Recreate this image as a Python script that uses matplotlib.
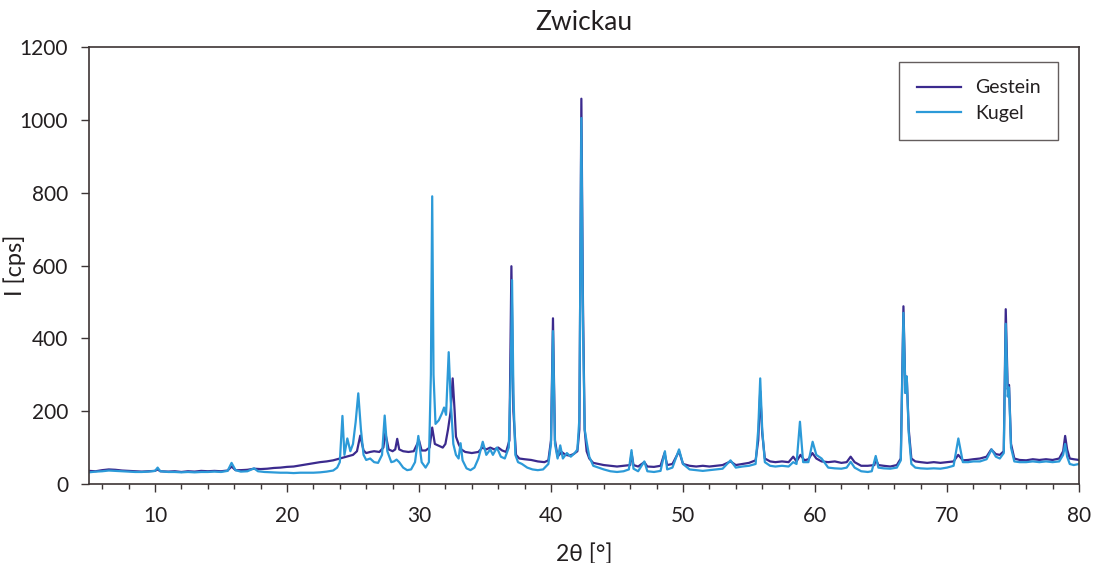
import matplotlib
matplotlib.use("Agg")
from matplotlib import pyplot as plt
from matplotlib.ticker import MultipleLocator

# XRD pattern (2theta in degrees, intensity in cps)
gestein_2theta = [5.0, 5.5, 6.0, 6.5, 7.0, 7.5, 8.0, 8.5, 9.0, 9.5, 10.0, 10.2, 10.4, 11.0, 11.5, 12.0, 12.5,
                  13.0, 13.5, 14.0, 14.5, 15.0, 15.5, 15.8, 16.1, 16.5, 17.0, 17.5, 18.0, 18.5, 19.0, 19.5,
                  20.0, 20.5, 21.0, 21.5, 22.0, 22.5, 23.0, 23.5, 24.0, 24.2, 24.5, 24.8, 25.0, 25.3, 25.55,
                  25.8, 26.0, 26.3, 26.6, 27.0, 27.3, 27.45, 27.7, 28.0, 28.2, 28.35, 28.5, 28.8, 29.2, 29.6,
                  30.0, 30.2, 30.5, 30.8, 31.0, 31.2, 31.5, 31.8, 32.0, 32.2, 32.4, 32.55, 32.7, 32.8, 33.0,
                  33.2, 33.5, 34.0, 34.5, 34.8, 35.1, 35.4, 35.7, 36.0, 36.3, 36.6, 36.85, 37.0, 37.15, 37.35,
                  37.6, 38.0, 38.5, 39.0, 39.5, 39.8, 40.0, 40.15, 40.3, 40.5, 40.8, 41.1, 41.4, 41.7, 42.0,
                  42.15, 42.3, 42.42, 42.55, 42.7, 42.9, 43.2, 43.6, 44.0, 44.5, 45.0, 45.5, 46.0, 46.1, 46.25,
                  46.6, 47.07, 47.3, 47.8, 48.3, 48.6, 48.8, 49.2, 49.7, 50.0, 50.5, 51.0, 51.5, 52.0, 52.5,
                  53.0, 53.6, 54.0, 54.5, 55.0, 55.5, 55.7, 55.85, 56.0, 56.2, 56.6, 57.0, 57.5, 58.0, 58.35,
                  58.6, 58.9, 59.2, 59.5, 59.8, 60.1, 60.5, 61.0, 61.5, 62.0, 62.4, 62.7, 63.0, 63.5, 64.0,
                  64.5, 64.6, 64.8, 65.2, 65.7, 66.2, 66.5, 66.7, 66.85, 66.95, 67.1, 67.3, 67.6, 68.0, 68.5,
                  69.0, 69.5, 70.0, 70.5, 70.85, 71.2, 71.6, 72.0, 72.5, 73.0, 73.35, 73.7, 74.0, 74.3, 74.45,
                  74.6, 74.7, 74.85, 75.1, 75.5, 76.0, 76.5, 77.0, 77.5, 78.0, 78.5, 78.8, 78.95, 79.1, 79.3,
                  79.6, 80.0]
gestein_cps = [36, 35, 38, 40, 39, 37, 36, 35, 34, 35, 36, 40, 35, 34, 35, 33, 35,
               34, 36, 35, 36, 35, 37, 48, 38, 38, 39, 42, 41, 42, 44, 45,
               47, 48, 51, 54, 57, 60, 62, 65, 70, 72, 75, 78, 80, 90, 133,
               92, 85, 88, 90, 88, 100, 140, 95, 90, 95, 124, 95, 90, 88, 90,
               120, 92, 92, 100, 155, 110, 105, 100, 110, 150, 200, 290, 200, 130, 110,
               95, 88, 85, 88, 100, 95, 100, 95, 100, 92, 88, 120, 598, 200, 80,
               70, 68, 66, 62, 60, 65, 120, 455, 120, 75, 88, 80, 78, 82, 90,
               150, 1058, 500, 150, 90, 70, 58, 55, 52, 50, 48, 50, 52, 85, 52,
               48, 60, 48, 47, 50, 85, 52, 55, 90, 55, 50, 48, 50, 48, 50,
               52, 62, 52, 55, 58, 65, 120, 255, 140, 70, 62, 60, 62, 60, 75,
               62, 80, 65, 68, 85, 70, 62, 60, 62, 58, 60, 75, 60, 50, 50,
               52, 70, 52, 50, 48, 52, 70, 488, 250, 295, 150, 70, 62, 60, 58,
               60, 58, 60, 62, 80, 65, 66, 68, 70, 75, 95, 82, 80, 90, 480,
               260, 272, 110, 70, 66, 65, 68, 66, 68, 66, 70, 90, 132, 95, 70,
               68, 66]

kugel_2theta = [5.0, 5.5, 6.0, 6.5, 7.0, 7.5, 8.0, 8.5, 9.0, 9.5, 10.0, 10.2, 10.4, 11.0, 11.5, 12.0, 12.5,
                13.0, 13.5, 14.0, 14.5, 15.0, 15.5, 15.8, 16.1, 16.5, 17.0, 17.5, 17.8, 18.3, 19.0, 19.5,
                20.0, 20.5, 21.0, 21.5, 22.0, 22.5, 23.0, 23.5, 23.8, 24.0, 24.2, 24.35, 24.57, 24.8, 25.0,
                25.2, 25.4, 25.6, 25.8, 26.0, 26.3, 26.6, 26.9, 27.2, 27.4, 27.6, 27.9, 28.1, 28.3, 28.5,
                28.8, 29.1, 29.4, 29.7, 29.95, 30.2, 30.5, 30.75, 30.9, 31.0, 31.1, 31.25, 31.5, 31.75,
                31.9, 32.05, 32.25, 32.4, 32.6, 32.8, 33.0, 33.15, 33.3, 33.6, 33.9, 34.2, 34.5, 34.83,
                35.1, 35.4, 35.6, 35.9, 36.2, 36.5, 36.8, 36.95, 37.05, 37.15, 37.3, 37.5, 37.8, 38.2, 38.6,
                39.0, 39.4, 39.8, 40.0, 40.15, 40.3, 40.5, 40.7, 40.9, 41.2, 41.5, 41.8, 42.0, 42.15, 42.3,
                42.42, 42.55, 42.7, 42.9, 43.2, 43.6, 44.0, 44.5, 45.0, 45.5, 45.9, 46.1, 46.25, 46.6,
                47.07, 47.3, 47.8, 48.3, 48.63, 48.8, 49.2, 49.7, 50.0, 50.5, 51.0, 51.5, 52.0, 52.5, 53.0,
                53.6, 54.0, 54.5, 55.0, 55.5, 55.7, 55.85, 56.0, 56.2, 56.6, 57.0, 57.5, 58.0, 58.35, 58.6,
                58.86, 59.1, 59.5, 59.82, 60.1, 60.5, 61.0, 61.5, 62.0, 62.4, 62.7, 63.0, 63.5, 64.0, 64.3,
                64.6, 64.8, 65.2, 65.7, 66.2, 66.5, 66.7, 66.85, 66.95, 67.1, 67.3, 67.6, 68.0, 68.5, 69.0,
                69.5, 70.0, 70.5, 70.86, 71.2, 71.6, 72.0, 72.5, 73.0, 73.38, 73.7, 74.0, 74.3, 74.45, 74.6,
                74.7, 74.85, 75.1, 75.5, 76.0, 76.5, 77.0, 77.5, 78.0, 78.5, 78.8, 78.95, 79.1, 79.3, 79.6,
                80.0]
kugel_cps = [32, 34, 35, 37, 36, 35, 34, 33, 33, 34, 36, 45, 35, 33, 33, 32, 33,
             32, 33, 33, 34, 33, 36, 58, 38, 34, 35, 43, 35, 33, 32, 31,
             31, 30, 31, 31, 31, 32, 34, 37, 45, 60, 187, 80, 125, 90, 110,
             170, 249, 150, 80, 66, 70, 60, 58, 80, 188, 90, 60, 62, 67, 60,
             45, 38, 40, 60, 132, 60, 45, 60, 300, 790, 300, 165, 175, 195,
             210, 190, 362, 230, 110, 80, 70, 112, 65, 43, 38, 45, 70, 116,
             80, 95, 80, 100, 75, 70, 100, 300, 560, 250, 80, 60, 55, 45, 40,
             38, 40, 55, 110, 420, 110, 70, 106, 70, 85, 75, 85, 95, 180, 1005,
             450, 150, 116, 75, 50, 45, 40, 35, 33, 35, 40, 93, 42, 35,
             62, 35, 33, 36, 90, 40, 45, 95, 55, 40, 38, 36, 38, 40, 42,
             65, 45, 48, 50, 55, 150, 290, 150, 60, 50, 48, 50, 48, 60, 55,
             171, 60, 60, 116, 80, 70, 45, 43, 42, 45, 61, 45, 35, 33, 35,
             77, 45, 43, 42, 45, 65, 470, 250, 295, 140, 55, 45, 43, 42, 43,
             42, 45, 50, 125, 60, 60, 62, 62, 68, 95, 75, 70, 85, 440, 240,
             265, 100, 62, 60, 60, 62, 60, 62, 60, 62, 80, 110, 75, 55, 52,
             55]

series_labels = ['Gestein', 'Kugel']
series_colors = ['#3b2a8e', '#2c9ad8']

plt.rcParams['font.family'] = ['Lato', 'DejaVu Sans']
frame_color = '#3d3535'
text_color = '#231f20'

fig = plt.figure(figsize=(11.01, 5.63), dpi=100)
ax = fig.add_axes([89 / 1101, 1 - 484 / 563, 990 / 1101, 437 / 563])

ax.plot(gestein_2theta, gestein_cps, color=series_colors[0], lw=1.6, label=series_labels[0])
ax.plot(kugel_2theta, kugel_cps, color=series_colors[1], lw=1.6, label=series_labels[1])

ax.set_xlim(5, 80)
ax.set_ylim(0, 1200)
ax.xaxis.set_major_locator(MultipleLocator(10))
ax.xaxis.set_minor_locator(MultipleLocator(2))
ax.yaxis.set_major_locator(MultipleLocator(200))

for side in ax.spines:
    ax.spines[side].set_color(frame_color)
    ax.spines[side].set_linewidth(1.2)
ax.tick_params(which='major', direction='out', length=6, width=1, color=frame_color,
               labelsize=15, labelcolor=text_color, pad=9)
ax.tick_params(which='minor', direction='out', length=3.5, width=1, color=frame_color)
ax.tick_params(axis='x', which='major', pad=10)

ax.set_title('Zwickau', fontsize=19, color=text_color, pad=12)
ax.set_xlabel('2θ [°]', fontsize=16.5, color=text_color, labelpad=12)
# y label sits close to the left edge of the picture
fig.text(15 / 1101, 1 - 265 / 563, 'I [cps]', rotation=90, ha='center', va='center',
         fontsize=17, color=text_color)

leg = ax.legend(loc='upper right', bbox_to_anchor=(0.979, 0.966), borderaxespad=0,
                fontsize=14, fancybox=False, frameon=True, handlelength=2.3,
                borderpad=0.9, labelspacing=0.45, handletextpad=0.7)
leg.get_frame().set_edgecolor(frame_color)
leg.get_frame().set_linewidth(1.0)
for t in leg.get_texts():
    t.set_color(text_color)

fig.savefig('out.png', dpi=100)
